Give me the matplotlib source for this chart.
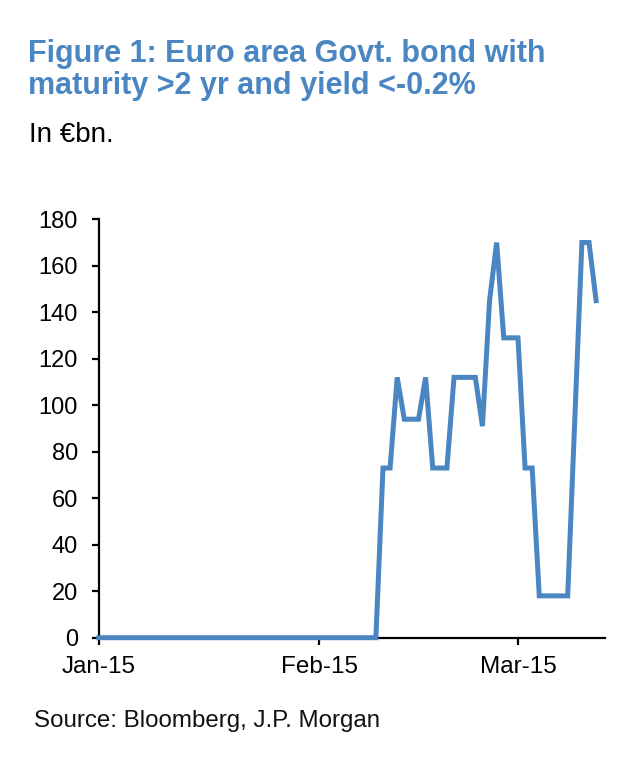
import pandas as pd
import matplotlib
matplotlib.use('Agg')
import matplotlib.pyplot as plt
import matplotlib.dates as mdates

# data (EUR bn)
# ---------------------------------
dates = list(pd.date_range('2015-01-01', '2015-03-08')) + list(pd.date_range('2015-03-10', '2015-03-12'))
values = [0] * 40 + [73, 73, 112, 94, 94, 94, 112, 73, 73, 73, 112, 112, 112, 112, 91,
                     145, 170, 129, 129, 129, 73, 73, 18, 18, 18, 18, 18, 170, 170, 145]
y_ticks = [0, 20, 40, 60, 80, 100, 120, 140, 160, 180]

title_lines = ['Figure 1: Euro area Govt. bond with', 'maturity >2 yr and yield <-0.2%']
subtitle = 'In €bn.'
source = 'Source: Bloomberg, J.P. Morgan'

blue = '#4a86c1'

# figure
# ------
plt.rcParams['font.family'] = ['Liberation Sans', 'DejaVu Sans']
fig = plt.figure(figsize=(6.4, 7.57), dpi=100)
ax = fig.add_axes([0.1544, 0.1576, 0.7909, 0.5527])

ax.plot(dates, values, color=blue, lw=3.6, clip_on=False, zorder=5, solid_joinstyle='miter')
ax.set_xlim(pd.Timestamp('2015-01-01'), pd.Timestamp('2015-03-13 06:00'))
ax.set_ylim(0, 180)
ax.set_yticks(y_ticks)
ax.xaxis.set_major_locator(mdates.MonthLocator())
ax.xaxis.set_major_formatter(mdates.DateFormatter('%b-%y'))

for s in ['top', 'right']:
    ax.spines[s].set_visible(False)
for s in ['left', 'bottom']:
    ax.spines[s].set_linewidth(1.6)
    ax.spines[s].set_color('black')
ax.tick_params(axis='y', length=5, width=1.6, pad=10, labelsize=17)
ax.tick_params(axis='x', length=5, width=1.6, pad=8, labelsize=17.5)

# text
# ----
fig.text(0.044, 1 - 61.7 / 757, title_lines[0], color=blue, fontsize=22, fontweight='bold', va='baseline')
fig.text(0.044, 1 - 94 / 757, title_lines[1], color=blue, fontsize=22, fontweight='bold', va='baseline')
fig.text(0.045, 1 - 141.7 / 757, subtitle, color='black', fontsize=20, va='baseline')
fig.text(0.053, 1 - 727.3 / 757, source, color='#111111', fontsize=17.4, va='baseline')

fig.savefig('out.png', dpi=100)
